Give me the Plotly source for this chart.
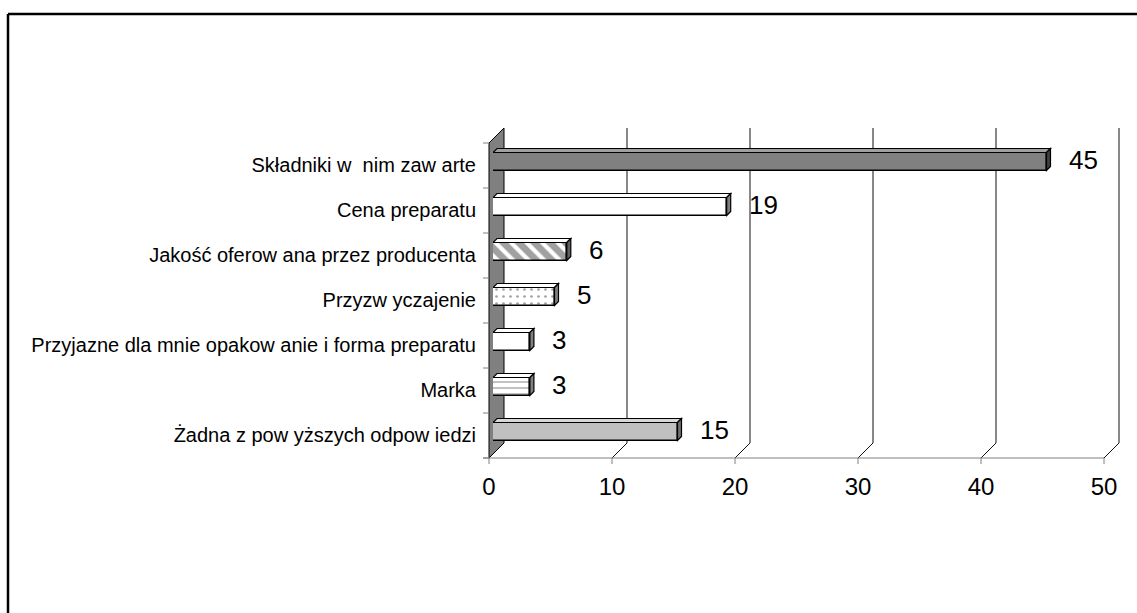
import plotly.graph_objects as go

categories = [
    "Składniki w  nim zaw arte",
    "Cena preparatu",
    "Jakość oferow ana przez producenta",
    "Przyzw yczajenie",
    "Przyjazne dla mnie opakow anie i forma preparatu",
    "Marka",
    "Żadna z pow yższych odpow iedzi",
]
values = [45, 19, 6, 5, 3, 3, 15]
x_ticks = [0, 10, 20, 30, 40, 50]

fills = ["#808080", "#ffffff", "#ffffff", "#ffffff", "#ffffff", "#ffffff", "#c0c0c0"]
tops = ["#a0a0a0", "#ffffff", "#ffffff", "#ffffff", "#ffffff", "#ffffff", "#d8d8d8"]
sides = ["#404040", "#808080", "#606060", "#808080", "#808080", "#808080", "#707070"]
pat_shape = ["", "", "\\", ".", "", "-", ""]
pat_fg = ["#000000", "#000000", "#000000", "#404040", "#000000", "#808080", "#000000"]
pat_size = [8, 8, 11, 7, 8, 6, 8]
pat_sol = [0.3, 0.3, 0.62, 0.12, 0.3, 0.22, 0.3]

W, H = 1137, 613
ML, MR, MT, MB = 493, 29, 139, 159
PW, PH = W - ML - MR, H - MT - MB
XMAX = 50
N = len(categories)
PXX = PW / XMAX          # pixels per x unit
PXY = PH / N             # pixels per category
BW = 0.4                 # bar thickness (category units)


def dx(px):
    return px / PXX


def dy(px):
    return px / PXY


def xp(v, off=0):
    """data x + pixel offset -> paper x"""
    return v / XMAX + off / PW


def yp(c, off=0):
    """category position + pixel offset (down) -> paper y"""
    return 1 - (c + 0.5) / N - off / PH


def path(points):
    return "M " + " L ".join(f"{x},{y}" for x, y in points) + " Z"


def opath(points):
    return "M " + " L ".join(f"{x},{y}" for x, y in points)


idx = list(range(N))

fig = go.Figure()
fig.add_trace(go.Bar(
    x=values, y=idx, orientation="h", width=BW,
    marker=dict(
        color=fills,
        line=dict(color="#000000", width=1.6),
        pattern=dict(shape=pat_shape, fgcolor=pat_fg, size=pat_size, solidity=pat_sol),
    ),
    hoverinfo="skip",
))

shapes = []
FX, FY = -4, 4     # front plane offset (screen px)
BX, BY = 11, -11   # back plane offset
top_b, bot_b = -0.5, N - 0.5

# wall
shapes.append(dict(
    type="path", xref="paper", yref="paper", layer="below",
    path=path([
        (xp(0, FX), yp(top_b, FY)),
        (xp(0, FX), yp(bot_b, FY)),
        (xp(0, BX), yp(bot_b, BY)),
        (xp(0, BX), yp(top_b, BY)),
    ]),
    fillcolor="#808080", line=dict(color="#000000", width=1),
))

# back gridlines + floor diagonals
for g in x_ticks[1:]:
    shapes.append(dict(
        type="path", xref="paper", yref="paper", layer="below",
        path=opath([
            (xp(g, BX), yp(top_b, BY)),
            (xp(g, BX), yp(bot_b, BY)),
            (xp(g, FX), yp(bot_b, FY)),
        ]),
        line=dict(color="#111111", width=1),
    ))

# floor front line
shapes.append(dict(
    type="line", xref="paper", yref="paper", layer="below",
    x0=xp(0, FX - 6), x1=xp(XMAX, FX),
    y0=yp(bot_b, FY), y1=yp(bot_b, FY),
    line=dict(color="#808080", width=1),
))
# x ticks
for g in x_ticks:
    shapes.append(dict(
        type="line", xref="paper", yref="paper", layer="below",
        x0=xp(g, FX), x1=xp(g, FX),
        y0=yp(bot_b, FY), y1=yp(bot_b, FY + 6),
        line=dict(color="#808080", width=1),
    ))
# y ticks (category boundaries)
for k in range(N + 1):
    yy = yp(k - 0.5, FY)
    shapes.append(dict(
        type="line", xref="paper", yref="paper", layer="below",
        x0=xp(0, FX - 6), x1=xp(0, FX),
        y0=yy, y1=yy,
        line=dict(color="#808080", width=1),
    ))

# 3D faces of bars
for i, v in enumerate(values):
    yt, yb = i - BW / 2, i + BW / 2
    shapes.append(dict(
        type="path", xref="x", yref="y", layer="above",
        path=path([(0, yt), (v, yt), (v + dx(4), yt - dy(4)), (0 + dx(4), yt - dy(4))]),
        fillcolor=tops[i], line=dict(color="#000000", width=1.2),
    ))
    shapes.append(dict(
        type="path", xref="x", yref="y", layer="above",
        path=path([(v, yt), (v + dx(4), yt - dy(4)), (v + dx(4), yb - dy(4)), (v, yb)]),
        fillcolor=sides[i], line=dict(color="#000000", width=1.2),
    ))

# outer frame (top and left)
def px2paper_x(px):
    return (px - ML) / PW


def px2paper_y(py):
    return (H - MB - py) / PH


shapes.append(dict(type="line", xref="paper", yref="paper",
                   x0=px2paper_x(8), x1=px2paper_x(W + 5),
                   y0=px2paper_y(14), y1=px2paper_y(14),
                   line=dict(color="#000000", width=2.5)))
shapes.append(dict(type="line", xref="paper", yref="paper",
                   x0=px2paper_x(8), x1=px2paper_x(8),
                   y0=px2paper_y(14), y1=px2paper_y(H + 5),
                   line=dict(color="#000000", width=2.5)))

annotations = []
for i, v in enumerate(values):
    annotations.append(dict(
        x=v, y=i, xref="x", yref="y", text=str(v), showarrow=False,
        xanchor="left", yanchor="middle", xshift=20, yshift=2,
        font=dict(family="Liberation Sans, Arial", size=26, color="#000000"),
    ))

fig.update_layout(
    width=W, height=H,
    margin=dict(l=ML, r=MR, t=MT, b=MB, autoexpand=False),
    paper_bgcolor="#ffffff", plot_bgcolor="rgba(0,0,0,0)",
    showlegend=False, bargap=0,
    shapes=shapes, annotations=annotations,
    xaxis=dict(
        range=[0, XMAX], tickvals=x_ticks, ticktext=[str(t) for t in x_ticks],
        showgrid=False, zeroline=False, showline=False, ticks="",
        tickfont=dict(family="Liberation Sans, Arial", size=24, color="#000000"),
        ticklabelstandoff=16, ticklabelshift=-4, fixedrange=True,
    ),
    yaxis=dict(
        range=[N - 0.5, -0.5], tickvals=idx, ticktext=categories,
        showgrid=False, zeroline=False, showline=False, ticks="",
        tickfont=dict(family="Liberation Sans, Arial", size=20, color="#000000"),
        ticklabelstandoff=16, ticklabelshift=-3, fixedrange=True,
    ),
)

fig.write_html("out.html", config={"displayModeBar": False})
